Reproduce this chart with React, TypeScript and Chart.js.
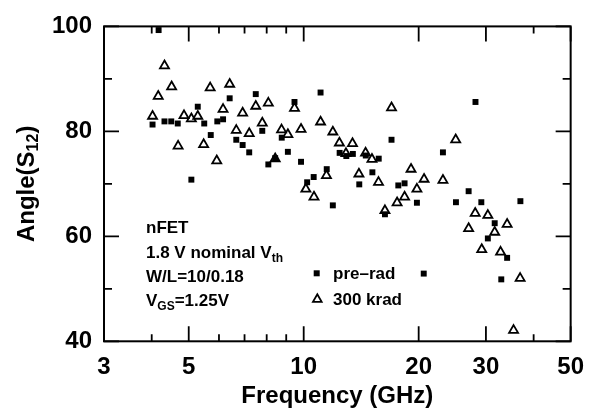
import React, { useEffect, useRef } from 'react';
import { Chart, registerables } from 'chart.js';

Chart.register(...registerables);

// ---- data ----
const preRadFreq = [4.17, 4.02, 4.32, 4.5, 4.68, 5.28, 5.49, 5.71, 5.08, 5.94, 6.15, 6.4, 6.66, 6.92, 7.49, 7.79, 7.2, 8.08, 8.42, 8.76, 9.09, 9.46, 9.84, 11.07, 10.21, 10.62, 11.49, 12.42, 12.93, 13.45, 14.54, 15.13, 15.72, 16.98, 13.98, 17.69, 28.17, 23.15, 18.37, 11.92, 16.32, 19.79, 27.03, 25.04, 29.18, 36.93, 31.63, 30.35, 34.09, 20.62, 32.91];
const preRadAngle = [99.3, 81.3, 81.9, 81.9, 81.5, 84.7, 81.5, 79.3, 70.8, 81.9, 82.3, 86.3, 78.4, 77.4, 87.1, 80.1, 76.0, 73.7, 74.9, 78.8, 76.1, 85.6, 74.2, 87.4, 70.3, 71.3, 72.8, 75.9, 75.3, 75.7, 75.4, 72.2, 74.8, 78.4, 69.9, 69.7, 85.6, 76.0, 70.1, 65.9, 64.2, 66.4, 68.6, 66.5, 66.5, 66.7, 62.5, 59.6, 55.9, 52.9, 51.8];

const kradFreq = [4.02, 4.16, 4.32, 4.51, 4.69, 4.86, 5.08, 5.28, 5.47, 5.69, 5.92, 6.15, 6.4, 6.66, 6.92, 7.49, 8.08, 7.79, 7.2, 8.75, 9.09, 9.46, 9.84, 11.07, 8.42, 11.92, 12.4, 13.42, 12.9, 14.52, 15.09, 13.95, 11.47, 15.7, 16.98, 25.0, 19.1, 20.66, 23.15, 10.13, 10.64, 16.32, 17.56, 18.37, 19.79, 28.12, 30.35, 34.09, 27.03, 31.63, 29.25, 32.77, 36.87, 35.44];
const kradAngle = [82.9, 86.7, 92.5, 88.5, 77.2, 83.0, 82.4, 82.9, 77.5, 88.3, 74.4, 84.2, 89.0, 80.2, 83.5, 84.8, 85.4, 81.6, 79.6, 80.3, 79.4, 84.4, 80.4, 81.8, 74.8, 79.9, 77.8, 77.7, 75.8, 75.9, 74.7, 71.9, 71.6, 70.3, 84.5, 78.4, 72.8, 70.9, 70.7, 69.0, 67.5, 64.9, 66.4, 67.5, 69.0, 64.4, 64.0, 62.3, 61.5, 60.8, 57.5, 57.0, 52.0, 42.1];

const xTickValues = [3, 5, 10, 20, 30, 50];
const xMinorTicks = [4, 6, 7, 8, 9, 40];
const yTickValues = [40, 60, 80, 100];
const yMinorTicks = [50, 70, 90];

const seriesLabels = ['pre\u2013rad', '300 krad'];
const xTitle = 'Frequency (GHz)';
const yTitleMain = 'Angle(S';
const yTitleSub = '12';
const yTitleEnd = ')';

const FONT = '"Liberation Sans", Arial, Helvetica, sans-serif';

function drawTriangle(ctx: CanvasRenderingContext2D, x: number, y: number, r: number) {
  ctx.beginPath();
  ctx.moveTo(x, y - r);
  ctx.lineTo(x + r * Math.sin((2 * Math.PI) / 3), y - r * Math.cos((2 * Math.PI) / 3));
  ctx.lineTo(x + r * Math.sin((4 * Math.PI) / 3), y - r * Math.cos((4 * Math.PI) / 3));
  ctx.closePath();
}

const frameTicksPlugin = {
  id: 'frameTicks',
  afterDraw(chart: any) {
    const { ctx, chartArea } = chart;
    const { left, right, top, bottom } = chartArea;
    const xs = chart.scales.x;
    const ys = chart.scales.y;
    ctx.save();
    ctx.strokeStyle = '#000';
    ctx.lineWidth = 2;
    ctx.strokeRect(left, top, right - left, bottom - top);
    ctx.lineWidth = 1.8;
    ctx.beginPath();
    const yt = [...yTickValues.map((v) => [v, 15]), ...yMinorTicks.map((v) => [v, 8])];
    yt.forEach(([v, len]) => {
      const py = ys.getPixelForValue(v);
      ctx.moveTo(left, py);
      ctx.lineTo(left + len, py);
      ctx.moveTo(right, py);
      ctx.lineTo(right - len, py);
    });
    const xt = [...xTickValues.map((v) => [v, 15]), ...xMinorTicks.map((v) => [v, 7])];
    xt.forEach(([v, len]) => {
      const px = xs.getPixelForValue(v);
      ctx.moveTo(px, bottom);
      ctx.lineTo(px, bottom - len);
      ctx.moveTo(px, top);
      ctx.lineTo(px, top + len);
    });
    ctx.stroke();
    ctx.restore();
  },
};

const textPlugin = {
  id: 'texts',
  afterDraw(chart: any) {
    const { ctx, chartArea } = chart;
    ctx.save();
    ctx.fillStyle = '#000';
    // y axis title with subscript
    const cy = (chartArea.top + chartArea.bottom) / 2;
    ctx.translate(25, cy);
    ctx.rotate(-Math.PI / 2);
    ctx.textBaseline = 'alphabetic';
    ctx.textAlign = 'left';
    const big = `bold 24px ${FONT}`;
    const small = `bold 16px ${FONT}`;
    ctx.font = big;
    const w1 = ctx.measureText(yTitleMain).width;
    const w3 = ctx.measureText(yTitleEnd).width;
    ctx.font = small;
    const w2 = ctx.measureText(yTitleSub).width;
    let sx = -(w1 + w2 + w3) / 2;
    ctx.font = big;
    ctx.fillText(yTitleMain, sx, 8.5);
    sx += w1;
    ctx.font = small;
    ctx.fillText(yTitleSub, sx, 13);
    sx += w2;
    ctx.font = big;
    ctx.fillText(yTitleEnd, sx, 8.5);
    ctx.setTransform(1, 0, 0, 1, 0, 0);

    // annotation block
    const main = `bold 17px ${FONT}`;
    const sub = `bold 12px ${FONT}`;
    const x0 = 146;
    ctx.font = main;
    ctx.fillText('nFET', x0, 233);
    const t = '1.8 V nominal V';
    ctx.fillText(t, x0, 257.5);
    let w = ctx.measureText(t).width;
    ctx.font = sub;
    ctx.fillText('th', x0 + w, 261.5);
    ctx.font = main;
    ctx.fillText('W/L=10/0.18', x0, 282);
    ctx.fillText('V', x0, 306);
    w = ctx.measureText('V').width;
    ctx.font = sub;
    ctx.fillText('GS', x0 + w, 310);
    const w2b = ctx.measureText('GS').width;
    ctx.font = main;
    ctx.fillText('=1.25V', x0 + w + w2b, 306);

    // legend
    ctx.fillRect(316.7 - 3, 273.3 - 3, 6, 6);
    ctx.fillText(seriesLabels[0], 333, 279);
    ctx.lineWidth = 1.8;
    ctx.strokeStyle = '#000';
    drawTriangle(ctx, 317.3, 299.3, 5);
    ctx.stroke();
    ctx.fillText(seriesLabels[1], 333, 305);
    ctx.restore();
  },
};

export default function App() {
  const ref = useRef<HTMLCanvasElement | null>(null);
  useEffect(() => {
    if (!ref.current) return;
    Chart.defaults.font.family = FONT;
    const chart = new Chart(ref.current, {
      type: 'scatter',
      data: {
        datasets: [
          {
            label: seriesLabels[0],
            data: preRadFreq.map((f, i) => ({ x: f, y: preRadAngle[i] })),
            pointStyle: 'rect',
            pointRadius: 4.2,
            backgroundColor: '#000',
            borderColor: '#000',
            borderWidth: 0,
            clip: false as any,
          },
          {
            label: seriesLabels[1],
            data: kradFreq.map((f, i) => ({ x: f, y: kradAngle[i] })),
            pointStyle: 'triangle',
            pointRadius: 5.2,
            backgroundColor: 'rgba(0,0,0,0)',
            borderColor: '#000',
            borderWidth: 1.8,
            clip: false as any,
          },
        ],
      },
      options: {
        responsive: false,
        animation: false,
        devicePixelRatio: 1,
        layout: { padding: { left: 0, top: 23.5, right: 14.3, bottom: 0 } },
        plugins: { legend: { display: false }, tooltip: { enabled: false }, title: { display: false } },
        scales: {
          x: {
            type: 'logarithmic',
            min: 3,
            max: 50,
            position: 'bottom',
            grid: { display: false, drawTicks: false },
            border: { display: false },
            ticks: {
              autoSkip: false,
              maxRotation: 0,
              minRotation: 0,
              padding: 12,
              color: '#000',
              font: { size: 24, weight: 'bold' },
              callback: (v: any) => String(v),
            },
            afterBuildTicks: (s: any) => {
              s.ticks = xTickValues.map((v) => ({ value: v }));
            },
            afterFit: (s: any) => {
              s.height = 71.7;
            },
            title: {
              display: true,
              text: xTitle,
              color: '#000',
              font: { size: 24, weight: 'bold' },
              padding: { top: 0, bottom: 2 },
            },
          },
          y: {
            type: 'linear',
            min: 40,
            max: 100,
            grid: { display: false, drawTicks: false },
            border: { display: false },
            ticks: {
              padding: 12,
              color: '#000',
              font: { size: 24, weight: 'bold' },
              callback: (v: any) => String(v),
            },
            afterBuildTicks: (s: any) => {
              s.ticks = yTickValues.map((v) => ({ value: v }));
            },
            afterFit: (s: any) => {
              s.width = 104;
            },
          },
        },
      } as any,
      plugins: [frameTicksPlugin, textPlugin],
    });
    return () => chart.destroy();
  }, []);
  return (
    <div style={{ position: 'absolute', left: 0, top: 0, width: 596, height: 413, background: '#fff' }}>
      <canvas ref={ref} width={596} height={413} style={{ display: 'block' }} />
    </div>
  );
}
